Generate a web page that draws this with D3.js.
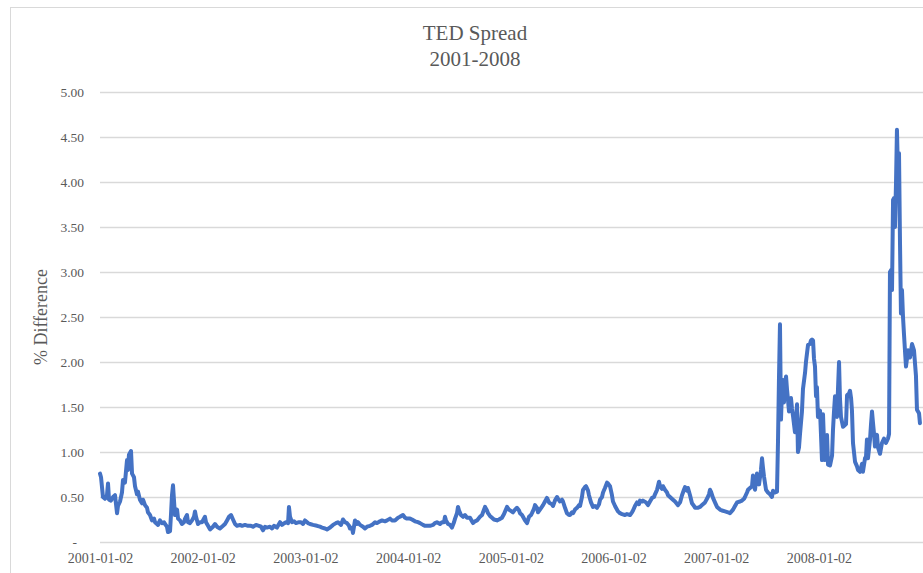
<!DOCTYPE html>
<html>
<head>
<meta charset="utf-8">
<script src="https://cdn.jsdelivr.net/npm/d3@7"></script>
<style>
  body { margin: 0; background: #fff; }
  svg { display: block; }
</style>
</head>
<body>
<svg id="chart" width="923" height="573"></svg>
<script>
// TED spread (3M LIBOR minus 3M T-bill), percentage points, sampled as decimal years
const dates = [
  2001.000, 2001.010, 2001.029, 2001.049, 2001.068, 2001.078, 2001.088, 2001.107, 2001.127, 2001.146,
  2001.166, 2001.175, 2001.195, 2001.214, 2001.224, 2001.243, 2001.263, 2001.273, 2001.282, 2001.302,
  2001.312, 2001.331, 2001.341, 2001.360, 2001.370, 2001.389, 2001.409, 2001.419, 2001.438, 2001.458,
  2001.467, 2001.487, 2001.506, 2001.526, 2001.536, 2001.555, 2001.565, 2001.584, 2001.604, 2001.623,
  2001.633, 2001.652, 2001.662, 2001.682, 2001.691, 2001.701, 2001.711, 2001.721, 2001.730, 2001.750,
  2001.760, 2001.779, 2001.798, 2001.818, 2001.828, 2001.847, 2001.857, 2001.876, 2001.896, 2001.915,
  2001.925, 2001.935, 2001.954, 2001.974, 2001.993,
  2002.022, 2002.032, 2002.052, 2002.071, 2002.100, 2002.120, 2002.139, 2002.168, 2002.198, 2002.217,
  2002.237, 2002.256, 2002.276, 2002.295, 2002.315, 2002.334, 2002.363, 2002.383, 2002.412, 2002.441,
  2002.470, 2002.490, 2002.519, 2002.548, 2002.568, 2002.587, 2002.607, 2002.626, 2002.655, 2002.675,
  2002.694, 2002.723, 2002.753, 2002.772, 2002.782, 2002.811, 2002.831, 2002.840, 2002.850, 2002.870,
  2002.889, 2002.908, 2002.938, 2002.957, 2002.977, 2002.996,
  2003.025, 2003.045, 2003.074, 2003.113, 2003.142, 2003.162, 2003.191, 2003.210, 2003.240, 2003.269,
  2003.298, 2003.317, 2003.347, 2003.366, 2003.386, 2003.405, 2003.425, 2003.434, 2003.454, 2003.463,
  2003.483, 2003.502, 2003.512, 2003.532, 2003.561, 2003.580, 2003.600, 2003.629, 2003.648, 2003.678,
  2003.697, 2003.726, 2003.746, 2003.775, 2003.795, 2003.824, 2003.843, 2003.872, 2003.902, 2003.921,
  2003.950, 2003.970, 2003.989,
  2004.019, 2004.038, 2004.067, 2004.096, 2004.116, 2004.145, 2004.165, 2004.194, 2004.213, 2004.242,
  2004.262, 2004.281, 2004.311, 2004.330, 2004.350, 2004.359, 2004.369, 2004.389, 2004.408, 2004.427,
  2004.447, 2004.457, 2004.476, 2004.486, 2004.496, 2004.515, 2004.535, 2004.554, 2004.574, 2004.603,
  2004.622, 2004.632, 2004.651, 2004.671, 2004.700, 2004.720, 2004.739, 2004.749, 2004.768, 2004.778,
  2004.797, 2004.817, 2004.836, 2004.866, 2004.885, 2004.914, 2004.934, 2004.963, 2004.982,
  2005.021, 2005.041, 2005.060, 2005.080, 2005.090, 2005.109, 2005.119, 2005.138, 2005.158, 2005.177,
  2005.197, 2005.206, 2005.226, 2005.236, 2005.255, 2005.265, 2005.284, 2005.314, 2005.333, 2005.352,
  2005.372, 2005.382, 2005.401, 2005.411, 2005.430, 2005.450, 2005.460, 2005.479, 2005.499, 2005.508,
  2005.528, 2005.547, 2005.567, 2005.576, 2005.596, 2005.606, 2005.625, 2005.645, 2005.664, 2005.674,
  2005.693, 2005.703, 2005.722, 2005.732, 2005.752, 2005.761, 2005.781, 2005.800, 2005.820, 2005.839,
  2005.859, 2005.869, 2005.888, 2005.898, 2005.917, 2005.937, 2005.946, 2005.966, 2005.985, 2005.995,
  2006.015, 2006.024, 2006.044, 2006.063, 2006.083, 2006.112, 2006.131, 2006.161, 2006.180, 2006.190,
  2006.209, 2006.229, 2006.248, 2006.258, 2006.278, 2006.287, 2006.316, 2006.336, 2006.355, 2006.375,
  2006.394, 2006.404, 2006.424, 2006.443, 2006.453, 2006.472, 2006.482, 2006.501, 2006.521, 2006.531,
  2006.550, 2006.579, 2006.599, 2006.628, 2006.648, 2006.667, 2006.686, 2006.696, 2006.716, 2006.725,
  2006.745, 2006.764, 2006.784, 2006.794, 2006.823, 2006.842, 2006.862, 2006.891, 2006.910, 2006.930,
  2006.940, 2006.949, 2006.969, 2006.988,
  2007.008, 2007.037, 2007.056, 2007.086, 2007.115, 2007.134, 2007.164, 2007.183, 2007.203, 2007.232,
  2007.251, 2007.271, 2007.280, 2007.300, 2007.310, 2007.329, 2007.349, 2007.358, 2007.368, 2007.378,
  2007.388, 2007.397, 2007.407, 2007.417, 2007.436, 2007.446, 2007.456, 2007.465, 2007.485, 2007.504,
  2007.524, 2007.543, 2007.553, 2007.573, 2007.592, 2007.602, 2007.611, 2007.621, 2007.631, 2007.641,
  2007.650, 2007.660, 2007.670, 2007.680, 2007.689, 2007.699, 2007.709, 2007.719, 2007.728, 2007.738,
  2007.748, 2007.767, 2007.777, 2007.787, 2007.796, 2007.806, 2007.816, 2007.835, 2007.845, 2007.865,
  2007.874, 2007.894, 2007.913, 2007.923, 2007.933, 2007.943, 2007.952, 2007.962, 2007.972, 2007.981,
  2007.991,
  2008.011, 2008.020, 2008.030, 2008.040, 2008.050, 2008.059, 2008.069, 2008.079, 2008.089, 2008.108,
  2008.128, 2008.137, 2008.147, 2008.157, 2008.167, 2008.176, 2008.186, 2008.196, 2008.205, 2008.215,
  2008.235, 2008.254, 2008.264, 2008.274, 2008.293, 2008.303, 2008.313, 2008.322, 2008.332, 2008.352,
  2008.371, 2008.381, 2008.400, 2008.420, 2008.429, 2008.449, 2008.459, 2008.468, 2008.478, 2008.498,
  2008.507, 2008.517, 2008.527, 2008.537, 2008.546, 2008.556, 2008.566, 2008.575, 2008.595, 2008.614,
  2008.634, 2008.653, 2008.673, 2008.683, 2008.692, 2008.702, 2008.712, 2008.722, 2008.731, 2008.741,
  2008.751, 2008.760, 2008.770, 2008.780, 2008.790, 2008.799, 2008.809, 2008.819, 2008.829, 2008.838,
  2008.848, 2008.868, 2008.887, 2008.907, 2008.926, 2008.945, 2008.955, 2008.975, 2008.984
];

const spread = [
  0.76, 0.72, 0.50, 0.48, 0.52, 0.65, 0.47, 0.46, 0.50, 0.52,
  0.32, 0.40, 0.45, 0.55, 0.69, 0.66, 0.91, 0.80, 0.97, 1.01,
  0.76, 0.72, 0.62, 0.53, 0.56, 0.47, 0.43, 0.47, 0.41, 0.38,
  0.33, 0.30, 0.24, 0.26, 0.22, 0.20, 0.19, 0.24, 0.21, 0.22,
  0.20, 0.17, 0.11, 0.12, 0.30, 0.52, 0.63, 0.45, 0.30, 0.36,
  0.26, 0.24, 0.20, 0.22, 0.26, 0.30, 0.22, 0.21, 0.24, 0.28,
  0.34, 0.28, 0.20, 0.22, 0.22,
  0.28, 0.22, 0.18, 0.14, 0.17, 0.20, 0.17, 0.15, 0.18, 0.20,
  0.24, 0.28, 0.30, 0.25, 0.20, 0.18, 0.19, 0.18, 0.19, 0.18,
  0.18, 0.17, 0.19, 0.18, 0.17, 0.13, 0.17, 0.16, 0.17, 0.15,
  0.18, 0.16, 0.22, 0.19, 0.20, 0.22, 0.21, 0.39, 0.28, 0.22,
  0.23, 0.21, 0.22, 0.22, 0.20, 0.24,
  0.21, 0.20, 0.19, 0.18, 0.17, 0.16, 0.15, 0.14, 0.16, 0.19,
  0.21, 0.22, 0.19, 0.25, 0.22, 0.21, 0.18, 0.15, 0.16, 0.10,
  0.24, 0.20, 0.22, 0.19, 0.17, 0.15, 0.17, 0.18, 0.19, 0.22,
  0.21, 0.23, 0.24, 0.23, 0.24, 0.26, 0.24, 0.24, 0.27, 0.28,
  0.30, 0.27, 0.26,
  0.26, 0.25, 0.23, 0.22, 0.21, 0.19, 0.18, 0.18, 0.18, 0.19,
  0.21, 0.22, 0.20, 0.22, 0.22, 0.28, 0.24, 0.20, 0.19, 0.16,
  0.22, 0.26, 0.32, 0.39, 0.35, 0.30, 0.28, 0.30, 0.27, 0.27,
  0.23, 0.21, 0.23, 0.24, 0.28, 0.30, 0.36, 0.39, 0.35, 0.32,
  0.29, 0.27, 0.25, 0.24, 0.25, 0.27, 0.31, 0.39, 0.36,
  0.33, 0.36, 0.38, 0.35, 0.32, 0.30, 0.28, 0.24, 0.21, 0.28,
  0.30, 0.32, 0.37, 0.41, 0.38, 0.33, 0.36, 0.41, 0.45, 0.49,
  0.44, 0.43, 0.42, 0.40, 0.46, 0.50, 0.48, 0.45, 0.47, 0.45,
  0.38, 0.32, 0.30, 0.30, 0.33, 0.32, 0.36, 0.38, 0.41, 0.40,
  0.50, 0.58, 0.61, 0.62, 0.57, 0.52, 0.44, 0.39, 0.40, 0.38,
  0.42, 0.47, 0.50, 0.55, 0.60, 0.66, 0.65, 0.62, 0.52, 0.45,
  0.40, 0.38, 0.34, 0.32, 0.31, 0.30, 0.31, 0.30, 0.33, 0.35,
  0.40, 0.44, 0.42, 0.46, 0.45, 0.46, 0.44, 0.41, 0.45, 0.49,
  0.50, 0.53, 0.58, 0.67, 0.62, 0.59, 0.62, 0.58, 0.55, 0.52,
  0.50, 0.47, 0.45, 0.41, 0.44, 0.52, 0.58, 0.61, 0.57, 0.60,
  0.52, 0.43, 0.40, 0.38, 0.38, 0.39, 0.41, 0.44, 0.48, 0.53,
  0.58, 0.56, 0.49, 0.44,
  0.39, 0.36, 0.35, 0.34, 0.33, 0.32, 0.36, 0.40, 0.44, 0.45,
  0.46, 0.48, 0.50, 0.55, 0.58, 0.60, 0.62, 0.74, 0.62, 0.58,
  0.68, 0.76, 0.70, 0.64, 0.80, 0.93, 0.82, 0.73, 0.58, 0.55,
  0.53, 0.50, 0.57, 0.55, 0.56, 1.13, 1.80, 2.42, 1.36, 1.70,
  1.80, 1.55, 1.75, 1.84, 1.70, 1.58, 1.45, 1.52, 1.60, 1.48,
  1.40, 1.22, 1.35, 1.53, 1.00, 1.05, 1.20, 1.45, 1.70, 1.88,
  2.00, 2.19, 2.20, 2.24, 2.25, 2.24, 2.04, 1.95, 1.62, 1.72,
  1.39,
  1.46, 1.20, 0.91, 1.42, 1.10, 0.91, 1.05, 1.19, 0.86, 0.85,
  0.96, 1.24, 1.45, 1.62, 1.50, 1.39, 1.70, 2.00, 1.60, 1.39,
  1.28, 1.30, 1.31, 1.63, 1.65, 1.68, 1.60, 1.46, 1.10, 0.89,
  0.84, 0.80, 0.78, 0.87, 0.78, 0.93, 0.95, 1.14, 0.93, 1.14,
  1.30, 1.45, 1.32, 1.20, 1.06, 1.15, 1.19, 1.05, 0.98, 1.10,
  1.15, 1.10, 1.15, 1.20, 3.00, 3.02, 2.80, 3.80, 3.82, 3.50,
  4.00, 4.58, 4.10, 4.32, 3.30, 2.54, 2.80, 2.50, 2.30, 2.13,
  1.95, 2.13, 2.05, 2.20, 2.13, 1.85, 1.47, 1.43, 1.32
];

const yTicks = [0, 0.5, 1, 1.5, 2, 2.5, 3, 3.5, 4, 4.5, 5];
const xTickYears = [2001, 2002, 2003, 2004, 2005, 2006, 2007, 2008];
const xTickLabels = ["2001-01-02", "2002-01-02", "2003-01-02", "2004-01-02",
                     "2005-01-02", "2006-01-02", "2007-01-02", "2008-01-02"];
const titleLines = ["TED Spread", "2001-2008"];
const yTitle = "% Difference";

const svg = d3.select("#chart");
const W = 923, H = 573;
const margin = { left: 100, top: 92, bottom: 31 };
const plotRight = 921.6;

const textColor = "#595959";
const gridColor = "#D9D9D9";
const lineColor = "#4472C4";
const font = "'Liberation Serif', 'Times New Roman', serif";

// chart frame
svg.append("rect")
  .attr("x", 10.5).attr("y", 7.5)
  .attr("width", W + 20).attr("height", H + 20)
  .attr("fill", "#fff")
  .attr("stroke", gridColor).attr("stroke-width", 1);

const x = d3.scaleLinear().domain([2001, 2009]).range([margin.left, plotRight]);
const y = d3.scaleLinear().domain([0, 5]).range([H - margin.bottom, margin.top]);

// horizontal gridlines
svg.append("g")
  .selectAll("line")
  .data(yTicks)
  .join("line")
  .attr("x1", margin.left).attr("x2", W + 5)
  .attr("y1", d => Math.round(y(d)) + 0.5).attr("y2", d => Math.round(y(d)) + 0.5)
  .attr("stroke", gridColor).attr("stroke-width", 1.3);

// y axis labels
const yAxis = d3.axisLeft(y)
  .tickValues(yTicks)
  .tickSize(0)
  .tickPadding(16)
  .tickFormat(d => d === 0 ? "-" : d3.format(".2f")(d));

const gy = svg.append("g")
  .attr("transform", `translate(${margin.left},0)`)
  .call(yAxis);
gy.select(".domain").remove();
gy.selectAll("text")
  .attr("fill", textColor)
  .style("font-family", font)
  .style("font-size", "13.5px")
  .attr("dx", d => d === 0 ? -7 : 0);

// x axis labels
const xAxis = d3.axisBottom(x)
  .tickValues(xTickYears)
  .tickSize(0)
  .tickPadding(11)
  .tickFormat((d, i) => xTickLabels[i]);

const gx = svg.append("g")
  .attr("transform", `translate(0,${H - margin.bottom})`)
  .call(xAxis);
gx.select(".domain").remove();
gx.selectAll("text")
  .attr("fill", textColor)
  .style("font-family", font)
  .style("font-size", "14px");

// series line
const points = dates.map((d, i) => ({ t: d, v: spread[i] }));
const line = d3.line()
  .x(d => x(d.t))
  .y(d => y(d.v));

svg.append("path")
  .datum(points)
  .attr("d", line)
  .attr("fill", "none")
  .attr("stroke", lineColor)
  .attr("stroke-width", 4)
  .attr("stroke-linejoin", "round")
  .attr("stroke-linecap", "round");

// title
svg.append("g")
  .selectAll("text")
  .data(titleLines)
  .join("text")
  .attr("x", 475)
  .attr("y", (d, i) => 40 + i * 26)
  .attr("text-anchor", "middle")
  .attr("fill", textColor)
  .style("font-family", font)
  .style("font-size", "21px")
  .text(d => d);

// y axis title
svg.append("text")
  .attr("transform", `translate(47,${(margin.top + H - margin.bottom) / 2}) rotate(-90)`)
  .attr("text-anchor", "middle")
  .attr("fill", textColor)
  .style("font-family", font)
  .style("font-size", "18px")
  .text(yTitle);
</script>
</body>
</html>
